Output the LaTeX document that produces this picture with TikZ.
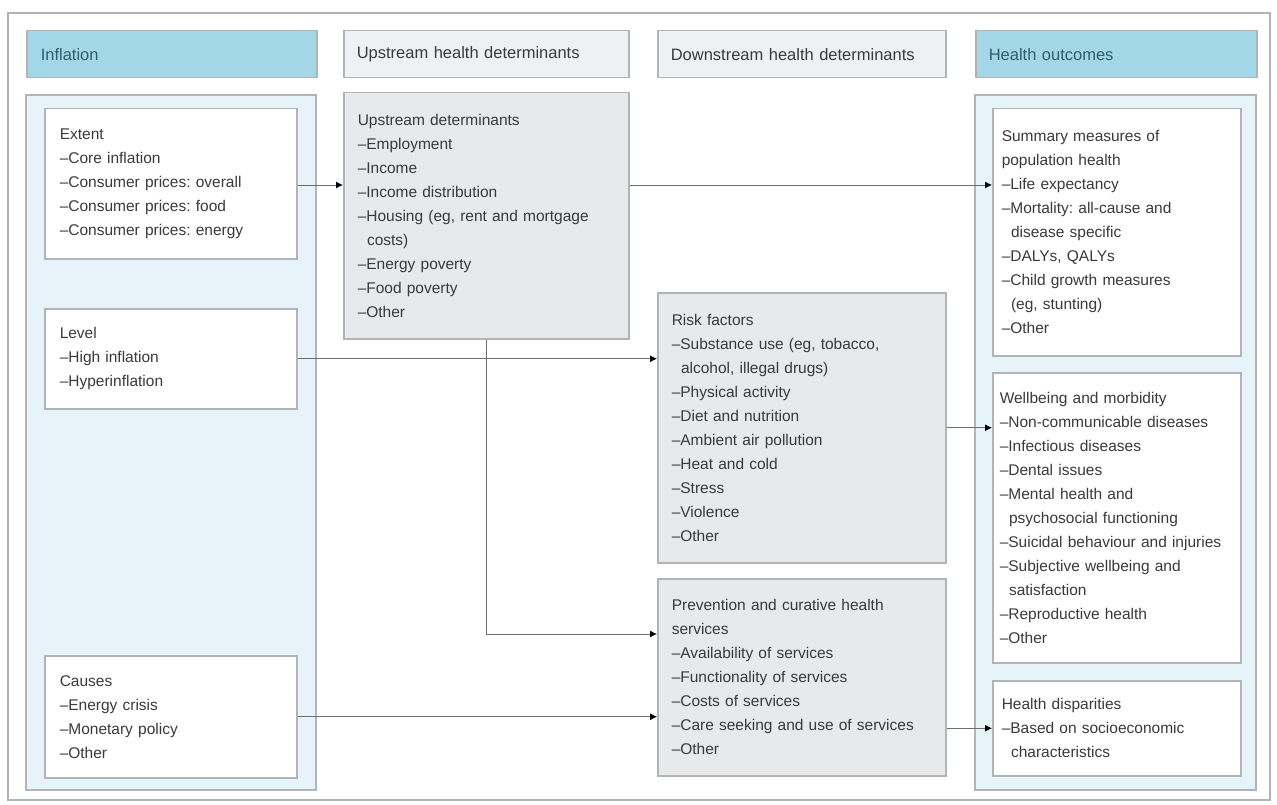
\documentclass[tikz,border=0pt]{standalone}
\usepackage{fontspec}
\setmainfont{Liberation Sans}
\usetikzlibrary{arrows.meta}
\frenchspacing
\definecolor{hdrblue}{HTML}{A3D6E6}
\definecolor{panelblue}{HTML}{E6F3F8}
\definecolor{boxgrey}{HTML}{E7E9EB}
\definecolor{hdrgrey}{HTML}{EEF1F2}
\definecolor{edgegrey}{HTML}{AEB4B7}
\definecolor{txt}{HTML}{3A3A3A}
\definecolor{hdrtxt}{HTML}{2E5E70}
\definecolor{linegrey}{HTML}{6E6E6E}
\begin{document}
\begin{tikzpicture}[x=1pt,y=-1pt,
  frame/.style={draw=edgegrey,line width=1.2pt},
  panel/.style={draw=edgegrey,line width=1.5pt,fill=panelblue},
  hdr/.style={draw=edgegrey,line width=1.5pt,anchor=north west,inner sep=0pt,align=left,
    font=\fontsize{16.5}{19}\selectfont},
  bluehdr/.style={hdr,fill=hdrblue,text=hdrtxt},
  greyhdr/.style={hdr,fill=hdrgrey,text=txt},
  box/.style={draw=edgegrey,line width=1.5pt,anchor=north west,inner sep=0pt,align=left,
    text=txt,font=\fontsize{15.5}{24}\selectfont,fill=white},
  greybox/.style={box,fill=boxgrey},
  arr/.style={draw=linegrey,line width=0.9pt,-{Latex[length=7pt,width=7pt,fill=black,color=black]}}
]
\useasboundingbox (0,0) rectangle (1277,805);
\fill[white] (0,0) rectangle (1277,805);
\draw[frame] (8,13) rectangle (1270,800);

% panels
\draw[panel] (26,95) rectangle (316,790);
\draw[panel] (975,95) rectangle (1256,790);

% headers
\node[bluehdr,minimum width=290,minimum height=47,text width=262] (hinf) at (26,30) {Inflation};
\node[greyhdr,minimum width=285,minimum height=47,text width=259] (hup) at (343,30) {Upstream health determinants};
\node[greyhdr,minimum width=288,minimum height=47,text width=262] (hdown) at (657,30) {Downstream health determinants};
\node[bluehdr,minimum width=281,minimum height=47,text width=255] (hout) at (975,30) {Health outcomes};

% inflation boxes
\node[box,minimum width=252,minimum height=150,text width=222] (extent) at (44,108)
 {Extent\\–Core inflation\\–Consumer prices: overall\\–Consumer prices: food\\–Consumer prices: energy};
\node[box,minimum width=252,minimum height=100,text width=222] (level) at (44,308)
 {Level\\–High inflation\\–Hyperinflation};
\node[box,minimum width=252,minimum height=122,text width=222] (causes) at (44,655)
 {Causes\\–Energy crisis\\–Monetary policy\\–Other};

% upstream
\node[greybox,minimum width=285,minimum height=246,text width=257] (upstream) at (343,92)
 {Upstream determinants\\–Employment\\–Income\\–Income distribution\\–Housing (eg, rent and mortgage\\\hspace*{0.6em}costs)\\–Energy poverty\\–Food poverty\\–Other};

% downstream
\node[greybox,minimum width=288,minimum height=270,text width=260] (risk) at (657,292)
 {Risk factors\\–Substance use (eg, tobacco,\\\hspace*{0.6em}alcohol, illegal drugs)\\–Physical activity\\–Diet and nutrition\\–Ambient air pollution\\–Heat and cold\\–Stress\\–Violence\\–Other};
\node[greybox,minimum width=288,minimum height=197,text width=260] (prev) at (657,578)
 {Prevention and curative health\\services\\–Availability of services\\–Functionality of services\\–Costs of services\\–Care seeking and use of services\\–Other};

% outcomes
\node[box,minimum width=248,minimum height=247,text width=230] (summary) at (992,108)
 {Summary measures of\\population health\\–Life expectancy\\–Mortality: all-cause and\\\hspace*{0.6em}disease specific\\–DALYs, QALYs\\–Child growth measures\\\hspace*{0.6em}(eg, stunting)\\–Other};
\node[box,minimum width=248,minimum height=290,text width=234] (wellbeing) at (992,372)
 {Wellbeing and morbidity\\–Non-communicable diseases\\–Infectious diseases\\–Dental issues\\–Mental health and\\\hspace*{0.6em}psychosocial functioning\\–Suicidal behaviour and injuries\\–Subjective wellbeing and\\\hspace*{0.6em}satisfaction\\–Reproductive health\\–Other};
\node[box,minimum width=248,minimum height=95,text width=230] (disp) at (992,680)
 {Health disparities\\–Based on socioeconomic\\\hspace*{0.6em}characteristics};

% connectors
\coordinate (c1) at (0,185);
\coordinate (c2) at (0,634);
\draw[arr] (extent.east |- c1) -- (upstream.west |- c1);
\draw[arr] (upstream.east |- c1) -- (summary.west |- c1);
\draw[arr] (level.east) -- (level.east -| risk.west);
\draw[arr] (upstream.south) -- (upstream.south |- c2) -- (prev.west |- c2);
\draw[arr] (causes.east) -- (causes.east -| prev.west);
\draw[arr] (risk.east) -- (risk.east -| wellbeing.west);
\draw[arr] (disp.west -| prev.east) -- (disp.west);
\end{tikzpicture}
\end{document}
